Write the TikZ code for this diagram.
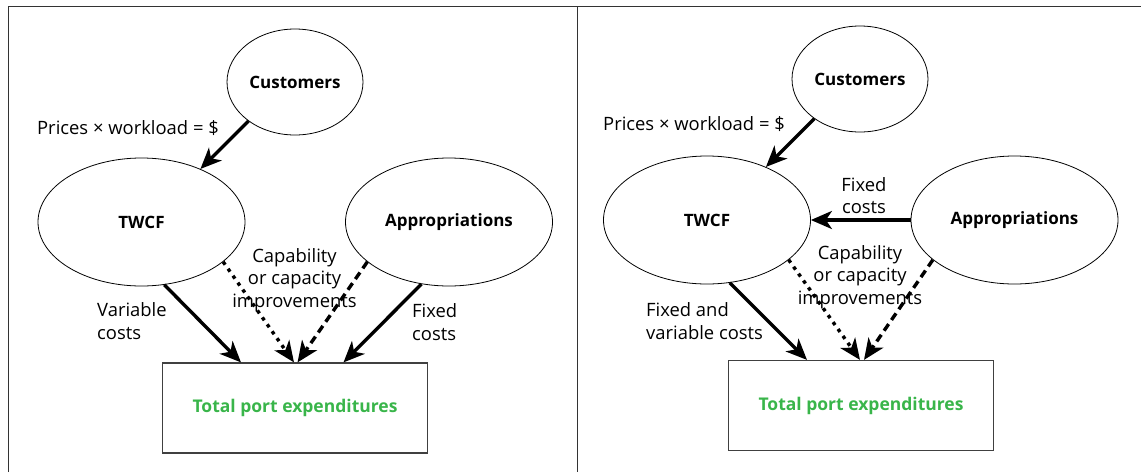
\documentclass[tikz,border=0pt]{standalone}
\usepackage{fontspec}
\setmainfont{Open Sans}
\usetikzlibrary{arrows.meta,shapes.geometric}
\definecolor{portgreen}{RGB}{57,181,74}

\begin{document}
\begin{tikzpicture}[x=1pt, y=-1pt,
    oval/.style={draw, line width=0.8pt, ellipse, inner sep=0pt,
        font=\fontsize{17}{20}\selectfont\bfseries},
    total/.style={draw, line width=1.2pt, draw=black!75, inner sep=0pt,
        minimum width=265pt, minimum height=90pt,
        font=\fontsize{17.5}{20}\selectfont\bfseries, text=portgreen},
    lbl/.style={inner sep=0pt, font=\fontsize{18.4}{22.5}\selectfont},
    flow/.style={line width=3.4pt,
        -{Stealth[length=21pt, width=18pt, inset=6pt]}},
    dots/.style={flow, dash pattern=on 3.5pt off 5pt},
    dashes/.style={flow, dash pattern=on 8pt off 5pt}]
\useasboundingbox (0,0) rectangle (1141,472);
\def\s{566}
% frame
\draw[line width=1pt, black!80] (8,472) -- (8,6) -- (1141,6);
\draw[line width=1pt, black!80] (577,6) -- (577,472);

% usual panel
\node[oval, minimum width=136pt, minimum height=106pt] (cust1) at (295,82) {Customers};
\node[oval, minimum width=207pt, minimum height=128pt] (twcf1) at (141.5,222) {TWCF};
\node[oval, minimum width=207pt, minimum height=128pt] (appr1) at (449,222) {Appropriations};
\node[total] (tpe1) at (295,408) {Total port expenditures};
\draw[flow] (cust1.220) -- (twcf1.42);
\draw[flow] (twcf1.-70) -- ([xshift=-54pt]tpe1.north);
\draw[dots] (twcf1.-26) -- ([xshift=-1pt]tpe1.north);
\draw[dashes] (appr1.206) -- ([xshift=2.5pt]tpe1.north);
\draw[flow] (appr1.246) -- ([xshift=48.5pt]tpe1.north);
\node[lbl] (price1) at (128,128) {Prices × workload = \$};
\node[lbl, anchor=west, align=left] (var1) at (97,321) {Variable\\costs};
\node[lbl, align=center] (cap1) at (294.5,280) {Capability\\or capacity\\improvements};
\node[lbl, anchor=west, align=left] (fix1) at (412,322) {Fixed\\costs};

% second panel
\node[oval, minimum width=136pt, minimum height=106pt] (cust2) at (\s+294,79) {Customers};
\node[oval, minimum width=207pt, minimum height=128pt] (twcf2) at (\s+141,220) {TWCF};
\node[oval, minimum width=207pt, minimum height=128pt] (appr2) at (\s+448.5,220) {Appropriations};
\node[total] (tpe2) at (\s+295,405.5) {Total port expenditures};
\draw[flow] (cust2.221) -- (twcf2.42);
\draw[flow] (appr2.west) -- (twcf2.east);
\draw[flow] (twcf2.-70) -- ([xshift=-54pt]tpe2.north);
\draw[dots] (twcf2.-26) -- ([xshift=-1pt]tpe2.north);
\draw[dashes] (appr2.206) -- ([xshift=3pt]tpe2.north);
\node[lbl] (price2) at (\s+128,124) {Prices × workload = \$};
\node[lbl, align=center] (fix2) at (\s+298,195.5) {Fixed\\costs};
\node[lbl, anchor=west, align=left] (fixvar2) at (\s+80,321) {Fixed and\\variable costs};
\node[lbl, align=center] (cap2) at (\s+294,277) {Capability\\or capacity\\improvements};
\end{tikzpicture}
\end{document}
